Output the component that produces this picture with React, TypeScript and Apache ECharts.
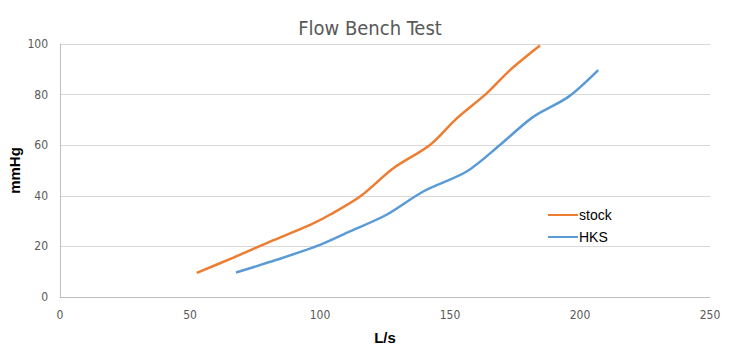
import React, { useEffect, useRef } from "react";
import * as echarts from "echarts";

const stockX = [52.6, 66.7, 80.8, 96.2, 103.8, 115.4, 128.2, 142.3, 152.6, 164.1, 173.1, 184.6];
const stockY = [9.5, 15.6, 21.9, 28.5, 32.5, 39.7, 50.9, 60.1, 70.6, 80.5, 89.7, 99.4];
const hksX = [67.7, 83.3, 100, 111.5, 125.6, 139.7, 156.4, 169.2, 182, 195.5, 207];
const hksY = [9.7, 14.7, 20.6, 25.9, 32.5, 41.7, 49.6, 60.1, 71.2, 79.1, 89.7];
const title = "Flow Bench Test";
const xName = "L/s";
const yName = "mmHg";

const font = "'DejaVu Sans Condensed', 'Liberation Sans Narrow', 'DejaVu Sans', sans-serif";

export default function App() {
  const ref = useRef<HTMLDivElement>(null);
  useEffect(() => {
    const chart = echarts.init(ref.current!, undefined, { renderer: "svg" });
    chart.setOption({
      animation: false,
      backgroundColor: "#ffffff",
      title: {
        text: title,
        left: "center",
        top: 13,
        textStyle: { fontFamily: font, fontSize: 20, fontWeight: "normal", color: "#595959" },
      },
      grid: { left: 60, right: 30, top: 44, bottom: 55, containLabel: false, outerBoundsMode: "none" },
      legend: {
        orient: "vertical",
        left: 543,
        top: 203,
        itemWidth: 30,
        itemHeight: 12,
        itemGap: 8,
        icon: "path://M0,5 L30,5 L30,7 L0,7 Z",
        textStyle: { fontFamily: "'Liberation Sans', Arial, sans-serif", fontSize: 14, color: "#000", padding: [0, 0, 0, -4] },
        data: ["stock", "HKS"],
      },
      xAxis: {
        type: "value",
        min: 0,
        max: 250,
        interval: 50,
        name: xName,
        nameLocation: "middle",
        nameGap: 33,
        nameMoveOverlap: false,
        nameTextStyle: { fontFamily: "'Liberation Sans', Arial, sans-serif", fontSize: 15, fontWeight: "bold", color: "#000" },
        axisLine: { show: true, lineStyle: { color: "#bfbfbf" } },
        axisTick: { show: false },
        splitLine: { show: false },
        axisLabel: { fontFamily: font, fontSize: 12, color: "#595959", margin: 12 },
      },
      yAxis: {
        type: "value",
        min: 0,
        max: 100,
        interval: 20,
        name: yName,
        nameLocation: "middle",
        nameGap: 38,
        nameRotate: 90,
        nameMoveOverlap: false,
        nameTextStyle: { fontFamily: "'Liberation Sans', Arial, sans-serif", fontSize: 15, fontWeight: "bold", color: "#000" },
        axisLine: { show: true, lineStyle: { color: "#bfbfbf" } },
        axisTick: { show: false },
        splitLine: { show: true, lineStyle: { color: "#d9d9d9" } },
        axisLabel: { fontFamily: font, fontSize: 12, color: "#595959", margin: 12 },
      },
      series: [
        {
          name: "stock",
          type: "line",
          smooth: 0.3,
          symbol: "none",
          color: "#ED7D31",
          lineStyle: { width: 2.5, color: "#ED7D31" },
          data: stockX.map((x, i) => [x, stockY[i]]),
        },
        {
          name: "HKS",
          type: "line",
          smooth: 0.3,
          symbol: "none",
          color: "#5B9BD5",
          lineStyle: { width: 2.5, color: "#5B9BD5" },
          data: hksX.map((x, i) => [x, hksY[i]]),
        },
      ],
    });
    return () => chart.dispose();
  }, []);
  return <div ref={ref} style={{ width: 740, height: 352, position: "absolute", left: 0, top: 0 }} />;
}
